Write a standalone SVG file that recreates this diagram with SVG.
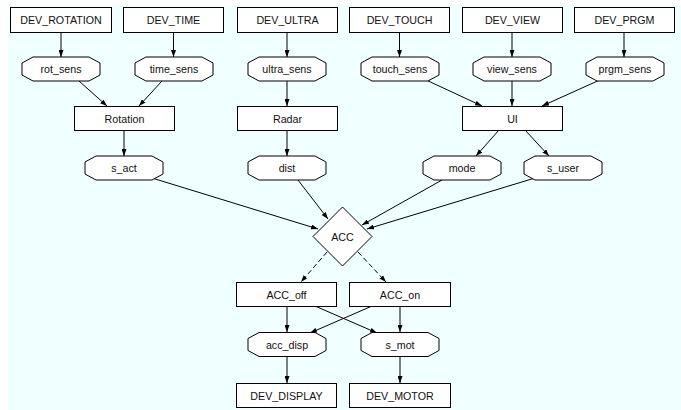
<svg xmlns="http://www.w3.org/2000/svg" width="681" height="410" viewBox="0 0 681 410">
<defs>
<style>
.box{fill:#ffffff;stroke:#000;stroke-width:1}
.lbl{font-family:"Liberation Sans",Arial,sans-serif;font-size:10.7px;fill:#111;text-anchor:middle;dominant-baseline:central}
.e{fill:none;stroke:#000;stroke-width:1;marker-end:url(#arr)}
.d{stroke-dasharray:5,3}
</style>
<marker id="arr" viewBox="0 0 7 5" markerWidth="7" markerHeight="5" refX="7" refY="2.5" orient="auto" markerUnits="userSpaceOnUse">
<path d="M0,0 L7,2.5 L0,5 Z" fill="#000"/>
</marker>
</defs>
<rect x="8" y="5" width="673" height="405" fill="#f0ffff"/>

<g id="connectors">
<path class="e" d="M61,32 L61,57"/>
<path class="e" d="M173.5,32 L173.5,57"/>
<path class="e" d="M287,32 L287,57"/>
<path class="e" d="M399.5,32 L399.5,57"/>
<path class="e" d="M512,32 L512,57"/>
<path class="e" d="M624,32 L624,57"/>
<path class="e" d="M79,81 L107,106"/>
<path class="e" d="M162,81 L139,106"/>
<path class="e" d="M287,81 L287,106"/>
<path class="e" d="M424,79 L482,106"/>
<path class="e" d="M512,81 L512,106"/>
<path class="e" d="M602,79 L542,106"/>
<path class="e" d="M124,130 L124,156"/>
<path class="e" d="M287,130 L287,156"/>
<path class="e" d="M499,130 L476,156"/>
<path class="e" d="M525,130 L549,156"/>
<path class="e" d="M152,178 L318,229"/>
<path class="e" d="M298,180 L328,219"/>
<path class="e" d="M442,180 L362,225"/>
<path class="e" d="M535,178 L367,229"/>
<path class="e d" d="M327,252 L301,282"/>
<path class="e d" d="M358,252 L386,282"/>
<path class="e" d="M287,306 L287,332"/>
<path class="e" d="M315,306 L377,333"/>
<path class="e" d="M372,306 L310,333"/>
<path class="e" d="M400,306 L400,332"/>
<path class="e" d="M287,357 L287,383"/>
<path class="e" d="M400,357 L400,383"/>
</g>

<g id="DEV_ROTATION"><rect class="box" x="10.5" y="7.5" width="101" height="25"/><text class="lbl" x="61" y="20">DEV_ROTATION</text></g>
<g id="DEV_TIME"><rect class="box" x="123.5" y="7.5" width="100" height="25"/><text class="lbl" x="173.5" y="20">DEV_TIME</text></g>
<g id="DEV_ULTRA"><rect class="box" x="237.5" y="7.5" width="100" height="25"/><text class="lbl" x="287.5" y="20">DEV_ULTRA</text></g>
<g id="DEV_TOUCH"><rect class="box" x="349.5" y="7.5" width="100" height="25"/><text class="lbl" x="399.5" y="20">DEV_TOUCH</text></g>
<g id="DEV_VIEW"><rect class="box" x="462.5" y="7.5" width="100" height="25"/><text class="lbl" x="512.5" y="20">DEV_VIEW</text></g>
<g id="DEV_PRGM"><rect class="box" x="574.5" y="7.5" width="100" height="25"/><text class="lbl" x="624.5" y="20">DEV_PRGM</text></g>

<g id="rot_sens"><polygon class="box" points="22,63 33,57 89,57 100,63 100,75 89,81 33,81 22,75"/><text class="lbl" x="61" y="69">rot_sens</text></g>
<g id="time_sens"><polygon class="box" points="135,63 146,57 202,57 213,63 213,75 202,81 146,81 135,75"/><text class="lbl" x="174" y="69">time_sens</text></g>
<g id="ultra_sens"><polygon class="box" points="248,63 259,57 315,57 326,63 326,75 315,81 259,81 248,75"/><text class="lbl" x="287" y="69">ultra_sens</text></g>
<g id="touch_sens"><polygon class="box" points="361,63 372,57 428,57 439,63 439,75 428,81 372,81 361,75"/><text class="lbl" x="400" y="69">touch_sens</text></g>
<g id="view_sens"><polygon class="box" points="473,63 484,57 540,57 551,63 551,75 540,81 484,81 473,75"/><text class="lbl" x="512" y="69">view_sens</text></g>
<g id="prgm_sens"><polygon class="box" points="586,63 597,57 653,57 664,63 664,75 653,81 597,81 586,75"/><text class="lbl" x="625" y="69">prgm_sens</text></g>

<g id="Rotation"><rect class="box" x="74.5" y="106.5" width="100" height="24"/><text class="lbl" x="124.5" y="118.5">Rotation</text></g>
<g id="Radar"><rect class="box" x="237.5" y="106.5" width="100" height="24"/><text class="lbl" x="287.5" y="118.5">Radar</text></g>
<g id="UI"><rect class="box" x="462.5" y="106.5" width="100" height="24"/><text class="lbl" x="512.5" y="118.5">UI</text></g>

<g id="s_act"><polygon class="box" points="85,162 96,156 152,156 163,162 163,174 152,180 96,180 85,174"/><text class="lbl" x="124" y="168">s_act</text></g>
<g id="dist"><polygon class="box" points="248,162 259,156 315,156 326,162 326,174 315,180 259,180 248,174"/><text class="lbl" x="287" y="168">dist</text></g>
<g id="mode"><polygon class="box" points="423,162 434,156 490,156 501,162 501,174 490,180 434,180 423,174"/><text class="lbl" x="462" y="168">mode</text></g>
<g id="s_user"><polygon class="box" points="524,162 535,156 591,156 602,162 602,174 591,180 535,180 524,174"/><text class="lbl" x="563" y="168">s_user</text></g>

<g id="ACC"><polygon class="box" points="342.5,207 372,236.5 342.5,266 313,236.5"/><text class="lbl" x="342.5" y="236.5">ACC</text></g>

<g id="ACC_off"><rect class="box" x="236.5" y="282.5" width="100" height="24"/><text class="lbl" x="286.5" y="294.5">ACC_off</text></g>
<g id="ACC_on"><rect class="box" x="349.5" y="282.5" width="101" height="24"/><text class="lbl" x="400" y="294.5">ACC_on</text></g>

<g id="acc_disp"><polygon class="box" points="248,338.5 259,332.5 315,332.5 326,338.5 326,350.5 315,356.5 259,356.5 248,350.5"/><text class="lbl" x="287" y="344.5">acc_disp</text></g>
<g id="s_mot"><polygon class="box" points="361,338.5 372,332.5 428,332.5 439,338.5 439,350.5 428,356.5 372,356.5 361,350.5"/><text class="lbl" x="400" y="344.5">s_mot</text></g>

<g id="DEV_DISPLAY"><rect class="box" x="236.5" y="383.5" width="100" height="24"/><text class="lbl" x="286.5" y="395.5">DEV_DISPLAY</text></g>
<g id="DEV_MOTOR"><rect class="box" x="349.5" y="383.5" width="101" height="24"/><text class="lbl" x="400" y="395.5">DEV_MOTOR</text></g>
</svg>
